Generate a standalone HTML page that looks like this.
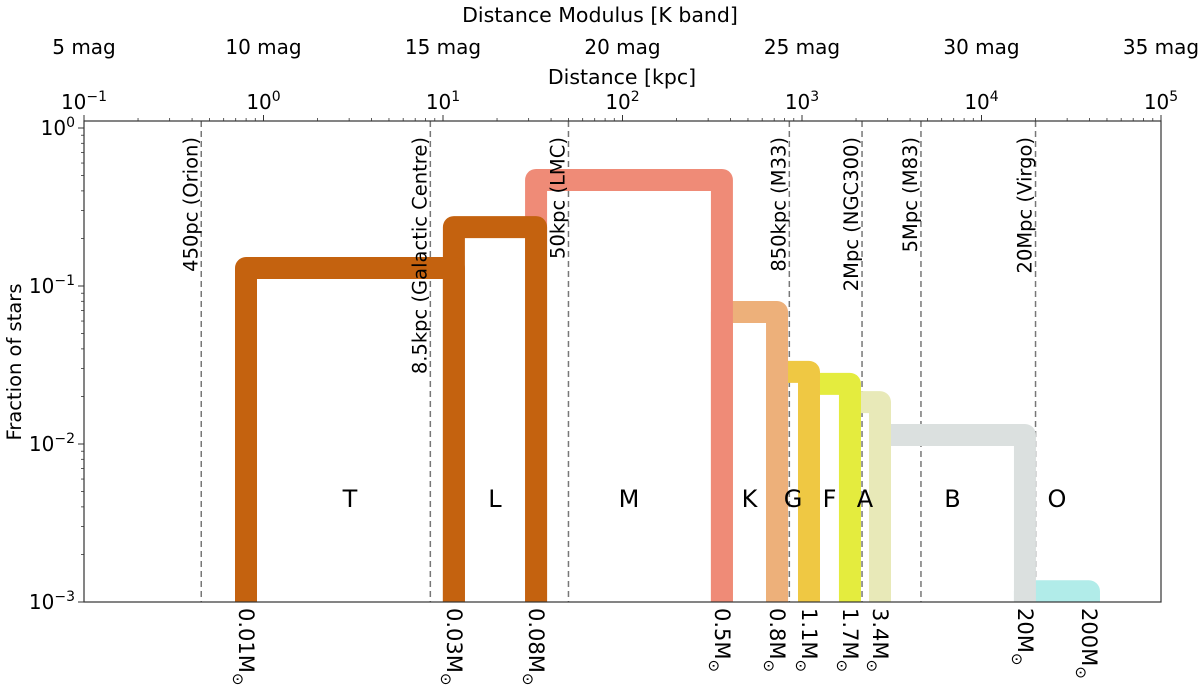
<!DOCTYPE html>
<html><head><meta charset="utf-8"><style>
html,body{margin:0;padding:0;background:#fff;}
svg{display:block;font-family:"DejaVu Sans","Liberation Sans",sans-serif;}
</style></head><body>
<svg id="chart" width="1200" height="696" viewBox="0 0 1200 696" xmlns="http://www.w3.org/2000/svg">
<defs><clipPath id="plotclip"><rect x="84" y="121" width="1077" height="481"/></clipPath></defs>
<g id="marks" clip-path="url(#plotclip)"></g>
<g id="overlay"></g>
<rect x="84" y="121" width="1077" height="481" fill="none" stroke="#333" stroke-width="1.2"/>
<text x="600" y="22" text-anchor="middle" font-size="20.5">Distance Modulus [K band]</text>
<text x="622" y="84" text-anchor="middle" font-size="20.5">Distance [kpc]</text>
<text transform="translate(21,362) rotate(-90)" text-anchor="middle" font-size="19.5">Fraction of stars</text>
</svg>
<script>
const classNames = ["T","L","M","K","G","F","A","B","O"];
const classLeft  = [0.799, 11.5, 33.0, 358, 726, 1094, 1850, 2720, 17460];
const classRight = [11.5, 33.0, 358, 726, 1094, 1850, 2720, 17460, 39700];
const classFraction = [0.130, 0.236, 0.469, 0.0684, 0.0286, 0.0240, 0.0184, 0.0114, 0.00117];
const classColors = ["#c4620f","#c4620f","#ef8b77","#edb07a","#efc843","#e4ec3e","#e8e9b8","#dbe0df","#b1ece9"];
const massLabels = ["0.01","0.03","0.08","0.5","0.8","1.1","1.7","3.4","20","200"];
const massDistance = [0.799, 11.5, 33.0, 358, 726, 1094, 1850, 2720, 17460, 39700];
const refNames = ["450pc (Orion)","8.5kpc (Galactic Centre)","50kpc (LMC)","850kpc (M33)","2Mpc (NGC300)","5Mpc (M83)","20Mpc (Virgo)"];
const refDistance = [0.45, 8.5, 50, 850, 2160, 4600, 20000];
const magTicks = [5,10,15,20,25,30,35];
const kpcTicks = [-1,0,1,2,3,4,5];
const yTicks = [0,-1,-2,-3];

const NS="http://www.w3.org/2000/svg";
const X0=84,X1=1161,Y0=602,Y1=121;
const xScale=d=>X0+(Math.log10(d)+1)/6*(X1-X0);
const yScale=v=>Y0-(Math.log10(v)+3)*158;
const marks=document.getElementById('marks');
const ov=document.getElementById('overlay');
function mk(tag,attrs,parent){const e=document.createElementNS(NS,tag);for(const k in attrs)e.setAttribute(k,attrs[k]);parent.appendChild(e);return e;}

refNames.forEach((n,i)=>{
  const x=xScale(refDistance[i]);
  const l=mk('line',{x1:x,x2:x,y1:Y1,y2:Y0,stroke:'#777','stroke-width':1.5,'stroke-dasharray':'6,4'},marks);
  
  
});
for(let i=classNames.length-1;i>=0;i--){
  const xl=xScale(classLeft[i]),xr=xScale(classRight[i]),y=yScale(classFraction[i]);
  const p=mk('path',{d:`M${xl},${Y0+20} L${xl},${y} L${xr},${y} L${xr},${Y0+20}`,fill:'none',stroke:classColors[i],'stroke-width':22,'stroke-linejoin':'round'},marks);
  
  
  const t=mk('text',{x:(xl+xr)/2,y:507,'text-anchor':'middle','font-size':24},ov);
  t.textContent=classNames[i];
  
  
}
refNames.forEach((n,i)=>{
  const x=xScale(refDistance[i])-4;
  const t=mk('text',{transform:`translate(${x},137) rotate(-90)`,'text-anchor':'end','font-size':19.5},ov);
  t.textContent=n;
  
  
});
massLabels.forEach((m,i)=>{
  const x=xScale(massDistance[i])-7;
  const t=mk('text',{transform:`translate(${x},608) rotate(90)`,'font-size':21},ov);
  t.appendChild(document.createTextNode(m+'M'));
  const s=mk('tspan',{dy:6,'font-size':15},t);s.textContent='⊙';
  
  
});
for(let d=-1;d<=5;d++){
  const x=xScale(Math.pow(10,d));
  mk('line',{x1:x,x2:x,y1:Y1,y2:Y1-6,stroke:'#333','stroke-width':1},ov);
  if(d<5)for(let k=2;k<=9;k++){const xm=xScale(k*Math.pow(10,d));mk('line',{x1:xm,x2:xm,y1:Y1,y2:Y1-3,stroke:'#333','stroke-width':0.8},ov);}
}
kpcTicks.forEach(p=>{
  const t=mk('text',{x:xScale(Math.pow(10,p)),y:109,'text-anchor':'middle','font-size':20},ov);
  t.appendChild(document.createTextNode('10'));
  const s=mk('tspan',{dy:-8,'font-size':14},t);s.textContent=p<0?'\u2212'+(-p):String(p);
  
  
});
magTicks.forEach(m=>{
  const d=Math.pow(10,(m+5)/5)/1000;
  const t=mk('text',{x:xScale(d),y:54,'text-anchor':'middle','font-size':20},ov);
  t.textContent=m+' mag';
  
  
});
yTicks.forEach(p=>{
  const y=yScale(Math.pow(10,p));
  mk('line',{x1:X0,x2:X0-6,y1:y,y2:y,stroke:'#333','stroke-width':1},ov);
  if(p>-3)for(let k=2;k<=9;k++){const ym=yScale(k*Math.pow(10,p-1));mk('line',{x1:X0,x2:X0-3,y1:ym,y2:ym,stroke:'#333','stroke-width':0.8},ov);}
  const t=mk('text',{x:X0-9,y:y+7,'text-anchor':'end','font-size':20},ov);
  t.appendChild(document.createTextNode('10'));
  const s=mk('tspan',{dy:-8,'font-size':14},t);s.textContent=p<0?'\u2212'+(-p):String(p);
  
  
});
</script>
</body></html>
